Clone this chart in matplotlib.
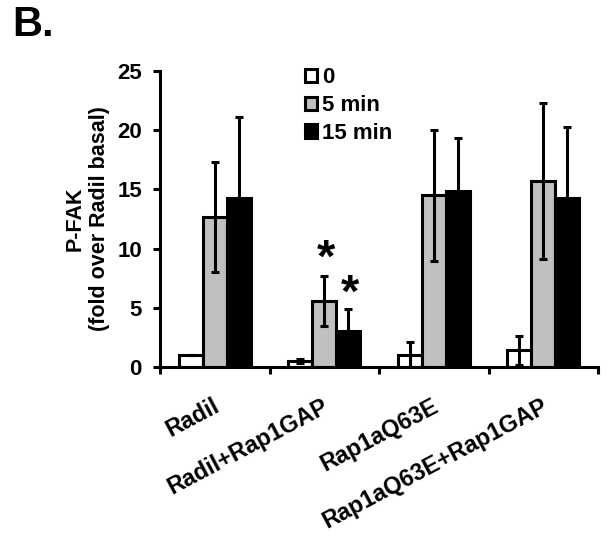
import matplotlib
matplotlib.use("Agg")
import matplotlib.pyplot as plt
from matplotlib.patches import Patch
import numpy as np

plt.rcParams['font.family'] = ['Liberation Sans', 'DejaVu Sans']
plt.rcParams['font.weight'] = 'bold'

categories = ["Radil", "Radil+Rap1GAP", "Rap1aQ63E", "Rap1aQ63E+Rap1GAP"]
series_names = ["0", "5 min", "15 min"]
vals_0 = [1.0, 0.5, 1.05, 1.4]
err_0 = [0.0, 0.2, 1.07, 1.2]
vals_5 = [12.7, 5.6, 14.5, 15.7]
err_5 = [4.65, 2.1, 5.55, 6.6]
vals_15 = [14.3, 3.05, 14.85, 14.25]
err_15 = [6.8, 1.85, 4.45, 6.05]
yticks = [0, 5, 10, 15, 20, 25]

fig = plt.figure(figsize=(6.08, 5.42), dpi=100)
ax = fig.add_axes([160/608, 1-367/542, 438/608, 296/542])

x = np.arange(len(categories)) + 0.5
w = 0.22
colors = ['white', '#c0c0c0', 'black']
series = [(vals_0, err_0), (vals_5, err_5), (vals_15, err_15)]
offs = [-w, 0, w]
for (v, e), c, o in zip(series, colors, offs):
    ax.bar(x + o, v, width=w, color=c, edgecolor='black', linewidth=2.2, zorder=2)
    ax.errorbar(x + o, v, yerr=e, fmt='none', ecolor='black', elinewidth=2.2,
                capsize=2.8, capthick=2.2, zorder=3)

ax.set_xlim(0, 4)
ax.set_ylim(0, 25)
ax.set_yticks(yticks)
ax.set_yticklabels([str(t) for t in yticks], fontsize=16, fontweight='bold')
ax.set_xticks([0, 1, 2, 3, 4])
ax.set_xticklabels([])
for s in ['top', 'right']:
    ax.spines[s].set_visible(False)
for s in ['left', 'bottom']:
    ax.spines[s].set_linewidth(2.2)
ax.tick_params(axis='both', direction='out', width=2.2, length=5)
ax.tick_params(axis='y', pad=8)

for xi, lab in zip(x, categories):
    ax.text(xi + 0.025, -3.2, lab, rotation=28, ha='right', va='center',
            rotation_mode='anchor', fontsize=16.8, fontweight='bold',
            transform=ax.transData, clip_on=False)

ax.set_ylabel("P-FAK\n(fold over Radil basal)", fontsize=15.5, fontweight='bold',
              labelpad=5, linespacing=1.2, multialignment='center')

# significance asterisks
ax.text(1.52, 9.1, "*", ha='center', va='center', fontsize=34, fontweight='bold')
ax.text(1.735, 6.1, "*", ha='center', va='center', fontsize=34, fontweight='bold')

handles = [Patch(facecolor=c, edgecolor='black', linewidth=2.2) for c in colors]
ax.legend(handles, series_names, loc='upper left', bbox_to_anchor=(0.33, 1.012),
          frameon=False, handlelength=0.55, handleheight=0.55, handletextpad=0.25,
          labelspacing=0.3, borderaxespad=0, borderpad=0,
          prop={'weight': 'bold', 'size': 16})

fig.text(0.02, 0.99, "B.", fontsize=30, fontweight='bold', ha='left', va='top')

fig.savefig("out.png", dpi=100)
